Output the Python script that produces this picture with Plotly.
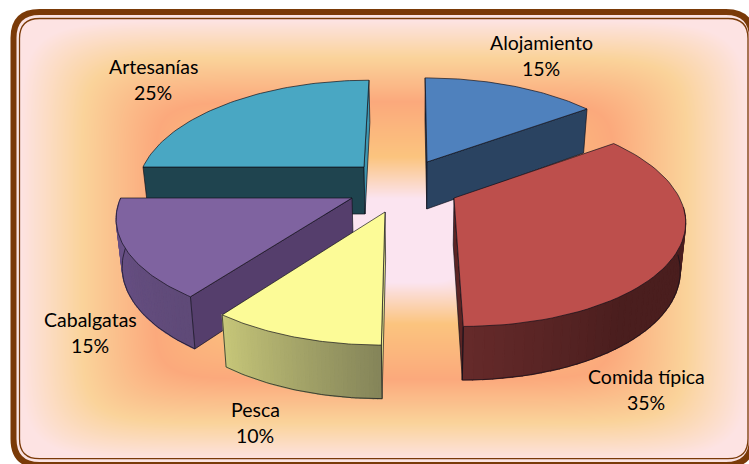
import math
import numpy as np
import plotly.graph_objects as go

# ---- data ----
categories = ["Alojamiento", "Comida típica", "Pesca", "Cabalgatas", "Artesanías"]
values = [15, 35, 10, 15, 25]

# ---- styling / geometry of the 3-D projection (screen pixels) ----
W, H = 749, 464
RX, RY, K, DEPTH = 229, 107, 0.196, 47
CX = 416
apex = [(427, 162), (454, 198), (385, 212), (352, 198), (364, 167)]
sx = [0.97, 0.985, 1.0, 1.01, 0.965]
sy = [0.94, 0.965, 1.0, 0.96, 0.97]
shear = [11, 38, -15, 0, -30]
top_col = ["#4f81bd", "#bd4f4c", "#fcfb97", "#7f63a0", "#49a7c3"]
start_wall = ["#2a4361", None, "#e8e88c", "#553e6c", "#1f444f"]
end_wall = ["#2a4361", "#5c2424", None, None, "#3f97b1"]
arc_stops = [None,
             [(0, "#4a1e1e"), (0.55, "#4a1e1e"), (1, "#672b2b")],
             [(0, "#85855a"), (1, "#c8c87a")],
             [(0, "#5f4a78"), (1, "#6b5289")],
             None]
label_pos = [(541, 42), (646, 376), (255, 409), (90, 319), (153, 66)]
EDGE = "rgba(15,15,25,0.85)"

bg_r = [0, 0.19, 0.38, 0.63, 0.83, 1]
bg_c = ["#fbe4f0", "#fbe4f0", "#fbc47e", "#fba97c", "#fad39a", "#fde3e3"]
BROWN = "#7a3a08"


def hex2rgb(h):
    return [int(h[i:i + 2], 16) for i in (1, 3, 5)]


def lerp_col(stops, f):
    for (a, ca), (b, cb) in zip(stops, stops[1:]):
        if f <= b:
            q = (f - a) / (b - a)
            r = [u + (v - u) * q for u, v in zip(hex2rgb(ca), hex2rgb(cb))]
            return "rgb(%d,%d,%d)" % tuple(r)
    return cb


def top_pt(i, t):
    a = math.radians(t)
    s = 1 / (1 + K * math.cos(a))
    ax, ay = apex[i]
    return (ax + sx[i] * RX * math.sin(a) * s + shear[i] * (s - 1),
            ay - sy[i] * RY * math.cos(a) * s)


def drop(i, p, t=None):
    s = 1.0 if t is None else 1 / (1 + K * math.cos(math.radians(t)))
    return (p[0] + (CX - p[0]) * 0.02, p[1] + DEPTH * s ** 0.6)


def poly(fig, pts, fill, line=EDGE, lw=0.8):
    xs = [p[0] for p in pts] + [pts[0][0]]
    ys = [p[1] for p in pts] + [pts[0][1]]
    fig.add_trace(go.Scatter(x=xs, y=ys, mode="lines", fill="toself", fillcolor=fill,
                             line=dict(color=line, width=lw), hoverinfo="skip", showlegend=False))


def curve(fig, pts, line=EDGE, lw=0.8):
    fig.add_trace(go.Scatter(x=[p[0] for p in pts], y=[p[1] for p in pts], mode="lines",
                             line=dict(color=line, width=lw), hoverinfo="skip", showlegend=False))


fig = go.Figure()

# background: rectangular path gradient with softened corners
gx = np.arange(20, 750, 2.0)
gy = np.arange(19, 461, 2.0)
xx, yy = np.meshgrid(gx, gy)
rr = ((np.abs(xx - 384) / 364) ** 9 + (np.abs(yy - 240) / 220) ** 9) ** (1 / 9)
cs = [[r, c] for r, c in zip(bg_r, bg_c)]
fig.add_trace(go.Heatmap(x=gx, y=gy, z=rr, zmin=0, zmax=1, colorscale=cs, showscale=False,
                         hoverinfo="skip", zsmooth="best"))

# slices: angles follow the values
total = sum(values)
bounds = [0]
for v in values:
    bounds.append(bounds[-1] + v / total * 360)

for i in [0, 4, 1, 3, 2]:
    t0, t1 = bounds[i], bounds[i + 1]
    A = apex[i]
    Ab = drop(i, A)
    p0, p1 = top_pt(i, t0), top_pt(i, t1)
    if start_wall[i]:
        poly(fig, [A, p0, drop(i, p0, t0), Ab], start_wall[i])
    if end_wall[i]:
        poly(fig, [A, p1, drop(i, p1, t1), Ab], end_wall[i])
    if arc_stops[i]:
        lo, hi = max(t0, 95), min(t1, 272)
        n = 40
        ts = [lo + (hi - lo) * j / n for j in range(n + 1)]
        for a, b in zip(ts, ts[1:]):
            q0, q1 = top_pt(i, a), top_pt(i, b)
            c = lerp_col(arc_stops[i], (a - lo) / (hi - lo))
            poly(fig, [q0, q1, drop(i, q1, b), drop(i, q0, a)], c, line=c, lw=1.2)
        curve(fig, [drop(i, top_pt(i, t), t) for t in ts])
        q = top_pt(i, t0 if t0 >= 95 else hi)
        curve(fig, [q, drop(i, q, t0 if t0 >= 95 else hi)])
        q = top_pt(i, t1 if t1 <= 272 else hi)
        curve(fig, [q, drop(i, q, t1 if t1 <= 272 else hi)])
    arc = [top_pt(i, t0 + (t1 - t0) * j / 60) for j in range(61)]
    poly(fig, [A] + arc, top_col[i])

# labels
for name, v, (lx, ly) in zip(categories, values, label_pos):
    for txt, yy_ in ((name, ly), (f"{v}%", ly + 26)):
        fig.add_annotation(x=lx, y=yy_, text=txt, showarrow=False, xanchor="center", yanchor="middle",
                           font=dict(family="Lato", size=19.5, color="#000000"))

# white corners and double brown border
R = 26


def rrect(x0, y0, x1, y1, r):
    return (f"M{x0 + r},{y0} L{x1 - r},{y0} Q{x1},{y0} {x1},{y0 + r} L{x1},{y1 - r} Q{x1},{y1} {x1 - r},{y1} "
            f"L{x0 + r},{y1} Q{x0},{y1} {x0},{y1 - r} L{x0},{y0 + r} Q{x0},{y0} {x0 + r},{y0} Z")


shapes = [
    dict(type="path", path=f"M0,0 L{W},0 L{W},{H} L0,{H} Z " + rrect(13.5, 12, 752, 465, R),
         fillcolor="white", fillrule="evenodd", line=dict(width=0), layer="above"),
    dict(type="path", path=rrect(16, 15, 750, 462, 24), fillcolor="rgba(0,0,0,0)",
         line=dict(color="#fbe3e3", width=5), layer="above"),
    dict(type="path", path=rrect(13.5, 12, 752, 465, R), fillcolor="rgba(0,0,0,0)",
         line=dict(color=BROWN, width=6), layer="above"),
    dict(type="path", path=rrect(19.5, 18.5, 748, 458.7, 20), fillcolor="rgba(0,0,0,0)",
         line=dict(color=BROWN, width=1.3), layer="above"),
]

fig.update_layout(
    width=W, height=H, margin=dict(l=0, r=0, t=0, b=0), autosize=False,
    paper_bgcolor="white", plot_bgcolor="white", showlegend=False, shapes=shapes,
    xaxis=dict(range=[0, W], visible=False, fixedrange=True),
    yaxis=dict(range=[H, 0], visible=False, fixedrange=True),
)
fig.write_html("out.html", config=dict(displayModeBar=False),
               post_script="document.body.style.margin='0';document.body.style.overflow='hidden';")
